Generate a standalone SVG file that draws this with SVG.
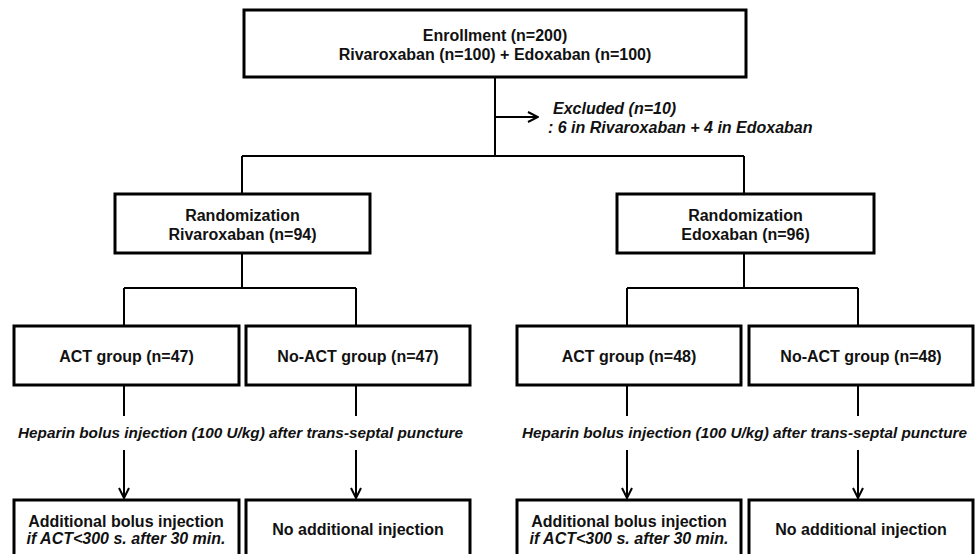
<svg xmlns="http://www.w3.org/2000/svg" width="976" height="554" viewBox="0 0 976 554">
<defs>
<style>
.box{fill:#fff;stroke:#000;stroke-width:3}
.t{font-family:"Liberation Sans",Arial,sans-serif;font-size:16px;font-weight:bold;text-anchor:middle;fill:#111}
.i{font-style:italic}
.h{font-family:"Liberation Sans",Arial,sans-serif;font-size:15px;font-weight:bold;font-style:italic;fill:#111}
.c{fill:none;stroke:#000;stroke-width:2}
</style>
<marker id="arr" viewBox="0 0 12 12" refX="11" refY="6" markerWidth="12" markerHeight="12" markerUnits="userSpaceOnUse" orient="auto">
<path d="M1,1 L11,6 L1,11" fill="none" stroke="#000" stroke-width="2"/>
</marker>
</defs>
<rect width="976" height="554" fill="#fff"/>
<g id="connectors">
<path class="c" d="M495,77 V156 M242,156 H744 M242,156 V194 M744,156 V194"/>
<path class="c" d="M495,117 H538" marker-end="url(#arr)"/>
<path class="c" d="M242,253 V288 M124,288 H356 M124,288 V326 M356,288 V326"/>
<path class="c" d="M744,253 V288 M627,288 H858 M627,288 V326 M858,288 V326"/>
<path class="c" d="M124,385 V416 M356,385 V416 M627,385 V416 M858,385 V416"/>
<path class="c" d="M124,450 V498" marker-end="url(#arr)"/>
<path class="c" d="M356,450 V498" marker-end="url(#arr)"/>
<path class="c" d="M627,450 V498" marker-end="url(#arr)"/>
<path class="c" d="M858,450 V498" marker-end="url(#arr)"/>
</g>
<g id="enrollment">
<rect class="box" x="244" y="10" width="502" height="67"/>
<text class="t" x="495" y="41">Enrollment (n=200)</text>
<text class="t" x="495" y="60">Rivaroxaban (n=100) + Edoxaban (n=100)</text>
</g>
<g id="excluded">
<text class="t i" x="553" y="114" style="text-anchor:start">Excluded (n=10)</text>
<text class="t i" x="548" y="133" style="text-anchor:start">: 6 in Rivaroxaban + 4 in Edoxaban</text>
</g>
<g id="rand-riva">
<rect class="box" x="115" y="194" width="255" height="59"/>
<text class="t" x="242.5" y="221">Randomization</text>
<text class="t" x="242.5" y="240">Rivaroxaban (n=94)</text>
</g>
<g id="rand-edo">
<rect class="box" x="617" y="194" width="257" height="59"/>
<text class="t" x="745.5" y="221">Randomization</text>
<text class="t" x="745.5" y="240">Edoxaban (n=96)</text>
</g>
<g id="act-riva">
<rect class="box" x="14" y="326" width="225" height="59"/>
<text class="t" x="126.5" y="362">ACT group (n=47)</text>
</g>
<g id="noact-riva">
<rect class="box" x="246" y="326" width="224" height="59"/>
<text class="t" x="358" y="362">No-ACT group (n=47)</text>
</g>
<g id="act-edo">
<rect class="box" x="517" y="326" width="224" height="59"/>
<text class="t" x="629" y="362">ACT group (n=48)</text>
</g>
<g id="noact-edo">
<rect class="box" x="749" y="326" width="224" height="59"/>
<text class="t" x="861" y="362">No-ACT group (n=48)</text>
</g>
<g id="heparin-riva">
<text class="h" x="18" y="438" textLength="445" lengthAdjust="spacingAndGlyphs">Heparin bolus injection (100 U/kg) after trans-septal puncture</text>
</g>
<g id="heparin-edo">
<text class="h" x="522" y="438" textLength="445" lengthAdjust="spacingAndGlyphs">Heparin bolus injection (100 U/kg) after trans-septal puncture</text>
</g>
<g id="add-riva">
<rect class="box" x="14" y="500" width="225" height="70"/>
<text class="t" x="126" y="527">Additional bolus injection</text>
<text class="t i" x="126" y="544">if ACT&lt;300 s. after 30 min.</text>
</g>
<g id="noadd-riva">
<rect class="box" x="246" y="500" width="224" height="70"/>
<text class="t" x="358" y="535">No additional injection</text>
</g>
<g id="add-edo">
<rect class="box" x="517" y="500" width="224" height="70"/>
<text class="t" x="629" y="527">Additional bolus injection</text>
<text class="t i" x="629" y="544">if ACT&lt;300 s. after 30 min.</text>
</g>
<g id="noadd-edo">
<rect class="box" x="749" y="500" width="224" height="70"/>
<text class="t" x="861" y="535">No additional injection</text>
</g>
</svg>
